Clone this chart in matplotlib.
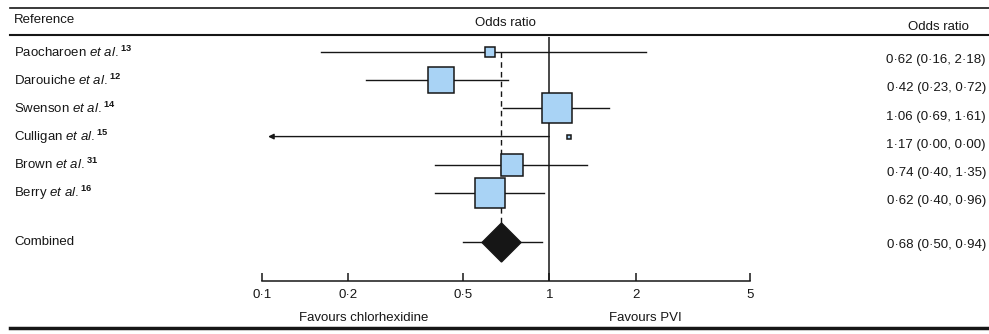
import matplotlib
matplotlib.use("Agg")
import matplotlib.pyplot as plt
import numpy as np
from matplotlib.lines import Line2D
from matplotlib.ticker import NullLocator
from matplotlib.transforms import blended_transform_factory, ScaledTranslation

plt.rcParams['font.family'] = ['Liberation Sans', 'DejaVu Sans']
plt.rcParams['mathtext.fontset'] = 'custom'
plt.rcParams['mathtext.rm'] = 'Liberation Sans'
plt.rcParams['mathtext.it'] = 'Liberation Sans:italic'
plt.rcParams['mathtext.bf'] = 'Liberation Sans:bold'

# Study data
authors = ["Paocharoen", "Darouiche", "Swenson", "Culligan", "Brown", "Berry"]
refs = ["13", "12", "14", "15", "31", "16"]
odds = [0.62, 0.42, 1.06, 1.17, 0.74, 0.62]
ci_low = [0.16, 0.23, 0.69, 0.00, 0.40, 0.40]
ci_high = [2.18, 0.72, 1.61, 0.00, 1.35, 0.96]
weights = [3.4, 21.4, 30.8, 0.5, 15.1, 28.8]   # relative study weight (%)

pooled_label = "Combined"
pooled_or = 0.68
pooled_low = 0.50
pooled_high = 0.94

ticks = [0.1, 0.2, 0.5, 1, 2, 5]
tick_labels = ["0·1", "0·2", "0·5", "1", "2", "5"]


def fmt(v):
    return f"{v:.2f}".replace(".", "·")


W, H = 989, 334
INK = "#161616"
FILL = "#a9d3f5"
FS = 9.5

fig = plt.figure(figsize=(W / 100, H / 100), dpi=100)
fig.patch.set_facecolor("white")

ax = fig.add_axes([262 / W, 1 - 281 / H, (750 - 262) / W, (281 - 37) / H])
ax.set_xscale("log")
ax.set_xlim(0.1, 5)
rows = np.arange(len(authors))
pooled_row = 6.75
ax.set_ylim(8.12, -0.53)

for s in ("top", "left", "right"):
    ax.spines[s].set_visible(False)
ax.spines["bottom"].set_linewidth(1.1)
ax.spines["bottom"].set_color(INK)
ax.set_yticks([])
ax.set_xticks(ticks)
ax.set_xticklabels(tick_labels)
ax.xaxis.set_minor_locator(NullLocator())
ax.tick_params(axis="x", direction="in", length=6, width=1.1, pad=6,
               labelsize=FS, colors=INK)

# line of no effect
ax.axvline(1, color=INK, lw=1.1, zorder=1)

# pooled estimate reference (dashed)
diamond_px = 39
half_rows = (diamond_px / 2) / ((281 - 37) / (8.12 + 0.53))
ax.plot([pooled_or, pooled_or], [rows[0], pooled_row - half_rows],
        color=INK, lw=1.0, dashes=(4, 3), zorder=1)

px_per_unit = 30 / np.sqrt(max(weights))
for r, o, lo, hi, w in zip(rows, odds, ci_low, ci_high, weights):
    if lo > 0 and hi > 0:
        ax.plot([lo, hi], [r, r], color=INK, lw=1.0, zorder=2)
    else:
        # interval not estimable: open arrow toward the lower limit
        ax.annotate("", xy=(ax.get_xlim()[0] * 1.05, r), xytext=(1.0, r),
                    arrowprops=dict(arrowstyle="-|>", color=INK, lw=1.0,
                                    mutation_scale=8, shrinkA=0, shrinkB=0),
                    zorder=2)
    side_pt = px_per_unit * np.sqrt(w) * 0.72
    ax.plot(o, r, marker="s", ms=side_pt, mfc=FILL, mec=INK, mew=1.1,
            linestyle="none", zorder=3)

ax.plot([pooled_low, pooled_high], [pooled_row, pooled_row], color=INK, lw=1.0, zorder=2)
ax.plot(pooled_or, pooled_row, marker=(4, 0, 0), ms=diamond_px * 0.72,
        mfc=INK, mec=INK, linestyle="none", zorder=3)

# text columns
row_tr = blended_transform_factory(fig.transFigure, ax.transData)
for r, a, ref in zip(rows, authors, refs):
    fig.text(14 / W, r, rf"{a} $\mathit{{et\ al.}}^{{\mathbf{{{ref}}}}}$",
             transform=row_tr, ha="left", va="center", fontsize=FS, color=INK)
fig.text(14 / W, pooled_row, pooled_label, transform=row_tr, ha="left",
         va="center", fontsize=FS, color=INK)

val_tr = row_tr + ScaledTranslation(0, -6 / 72, fig.dpi_scale_trans)
for r, o, lo, hi in zip(rows, odds, ci_low, ci_high):
    fig.text(986 / W, r, f"{fmt(o)} ({fmt(lo)}, {fmt(hi)})", transform=val_tr,
             ha="right", va="center", fontsize=FS, color=INK)
pool_tr = row_tr + ScaledTranslation(0, -2 / 72, fig.dpi_scale_trans)
fig.text(986 / W, pooled_row, f"{fmt(pooled_or)} ({fmt(pooled_low)}, {fmt(pooled_high)})",
         transform=pool_tr, ha="right", va="center", fontsize=FS, color=INK)


def fx(x):
    return x / W


def fy(y):
    return 1 - y / H


fig.text(fx(14), fy(20), "Reference", ha="left", va="center", fontsize=FS, color=INK)
fig.text(fx(505), fy(23), "Odds ratio", ha="center", va="center", fontsize=FS, color=INK)
fig.text(fx(938), fy(27), "Odds ratio", ha="center", va="center", fontsize=FS, color=INK)
fig.text(fx(364), fy(318), "Favours chlorhexidine", ha="center", va="center",
         fontsize=FS, color=INK)
fig.text(fx(645), fy(318), "Favours PVI", ha="center", va="center", fontsize=FS, color=INK)

# table rules
fig.add_artist(Line2D([fx(10), 1], [fy(8), fy(8)], lw=1.2, color=INK))
fig.add_artist(Line2D([fx(10), 1], [fy(35), fy(35)], lw=1.5, color=INK))
fig.add_artist(Line2D([fx(10), 1], [fy(328), fy(328)], lw=2.5, color=INK))

fig.savefig("out.png", dpi=100, facecolor="white")
